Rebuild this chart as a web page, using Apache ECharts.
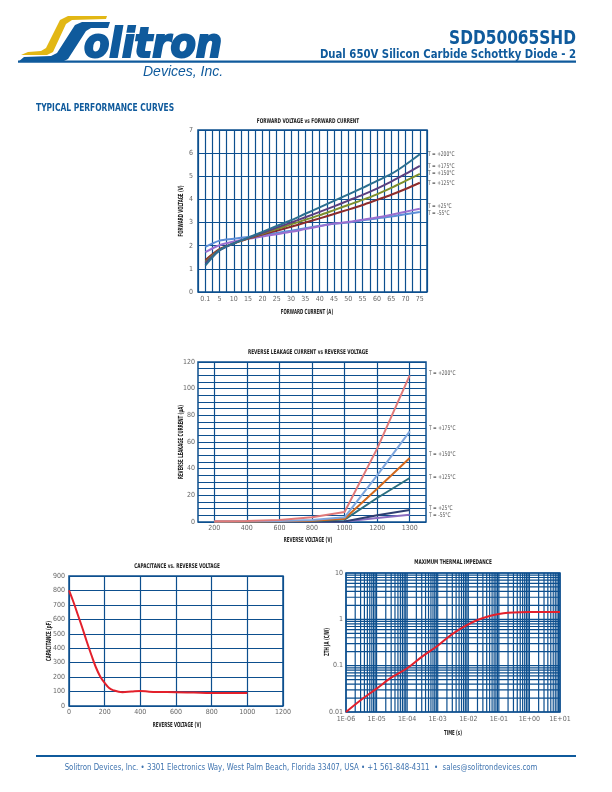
<!DOCTYPE html>
<html><head><meta charset="utf-8">
<script src="https://cdn.jsdelivr.net/npm/echarts@6/dist/echarts.min.js"></script>
<style>html,body{margin:0;padding:0;background:#fff}#c{width:612px;height:792px}</style>
</head><body><div id="c"></div>
<script>
// ---------- DATA ----------
const fwdCurrent = [0.1, 5, 10, 15, 20, 25, 30, 35, 40, 45, 50, 55, 60, 65, 70, 75];
const fwdV200 = [1.15, 1.8, 2.1, 2.35, 2.6, 2.85, 3.1, 3.38, 3.66, 3.94, 4.22, 4.5, 4.8, 5.1, 5.5, 5.95];
const fwdV175 = [1.25, 1.8, 2.1, 2.33, 2.55, 2.78, 3.0, 3.23, 3.46, 3.7, 3.95, 4.2, 4.47, 4.77, 5.1, 5.45];
const fwdV150 = [1.3, 1.82, 2.1, 2.32, 2.52, 2.72, 2.92, 3.12, 3.32, 3.54, 3.76, 3.98, 4.22, 4.5, 4.8, 5.1];
const fwdV125 = [1.38, 1.85, 2.1, 2.3, 2.48, 2.65, 2.82, 3.0, 3.18, 3.37, 3.56, 3.76, 3.98, 4.2, 4.45, 4.72];
const fwdV25 = [1.72, 2.02, 2.18, 2.3, 2.4, 2.5, 2.6, 2.72, 2.84, 2.96, 3.02, 3.12, 3.22, 3.34, 3.47, 3.6];
const fwdVm55 = [1.95, 2.22, 2.3, 2.38, 2.46, 2.55, 2.65, 2.76, 2.86, 2.95, 3.0, 3.1, 3.18, 3.26, 3.36, 3.46];
const fwdLabels = ['T = +200°C', 'T = +175°C', 'T = +150°C', 'T = +125°C', 'T = +25°C', 'T = -55°C'];

const revVoltage = ['200', '400', '600', '800', '1000', '1200', '1300'];
const revI200 = [0.5, 0.8, 1.5, 3.5, 7.5, 55, 110];
const revI175 = [0.3, 0.5, 0.8, 1.5, 3.5, 35, 68];
const revI150 = [0.2, 0.3, 0.5, 1.0, 2.5, 25, 48];
const revI125 = [0.1, 0.2, 0.3, 0.6, 1.8, 18, 33];
const revI25 = [0, 0, 0.1, 0.2, 0.4, 5, 9];
const revIm55 = [0, 0, 0, 0.1, 0.3, 3, 5.5];
const revLabels = ['T = +200°C', 'T = +175°C', 'T = +150°C', 'T = +125°C', 'T = +25°C', 'T = -55°C'];

const capVoltage = [0, 25, 50, 75, 100, 125, 150, 175, 200, 225, 250, 300, 350, 400, 450, 500, 600, 700, 800, 900, 1000];
const capValue = [800, 720, 630, 540, 445, 355, 270, 205, 160, 125, 108, 96, 100, 104, 99, 97, 96, 93, 90, 90, 90];

const thTime = [1e-6, 3e-6, 1e-5, 3e-5, 1e-4, 3e-4, 1e-3, 3e-3, 1e-2, 2e-2, 5e-2, 1e-1, 2e-1, 5e-1, 1, 3, 10];
const thZ = [0.01, 0.018, 0.032, 0.055, 0.088, 0.155, 0.27, 0.48, 0.78, 0.97, 1.18, 1.3, 1.38, 1.43, 1.44, 1.44, 1.44];
const thXTicks = ['1E-06', '1E-05', '1E-04', '1E-03', '1E-02', '1E-01', '1E+00', '1E+01'];
const thYTicks = ['0.01', '0.1', '1', '10'];

// ---------- STYLE ----------
const NF = "'Liberation Sans Narrow','DejaVu Sans Condensed','Roboto Condensed','Liberation Sans',sans-serif";
const GRIDC = '#0d4f8e';
const BLUE = '#0f5a9c';
const tickLbl = {color: '#666', fontSize: 7, fontFamily: NF};
const split = {show: true, lineStyle: {color: GRIDC, width: 1.2}};

const chart = echarts.init(document.getElementById('c'), null, {renderer: 'canvas'});

function zipXY(xs, ys) { return xs.map((x, i) => [x, ys[i]]); }
function lineSeries(xi, yi, xs, ys, color, extra) {
  return Object.assign({
    type: 'line', xAxisIndex: xi, yAxisIndex: yi,
    data: xs ? zipXY(xs, ys) : ys, showSymbol: false, symbol: 'none',
    lineStyle: {color: color, width: 2}, itemStyle: {color: color},
    smooth: 0.3, animation: false, z: 5
  }, extra || {});
}
function expLabel(v) { return thXTicks[Math.round(Math.log10(v)) + 6] || ''; }
function yLogLabel(v) { return thYTicks[Math.round(Math.log10(v)) + 2] || ''; }

// log grid lines (decade multiples)
const gridX = [], gridY = [];
for (let e = -6; e <= 1; e++) for (let m = 1; m <= 9; m++) { const v = m * Math.pow(10, e); if (v <= 10) gridX.push([v, 1]); }
for (let e = -2; e <= 1; e++) for (let m = 1; m <= 9; m++) { const v = m * Math.pow(10, e); if (v <= 10) gridY.push([1e-3, v]); }

function gridLineSeries(data, vertical) {
  return {
    type: 'custom', xAxisIndex: 3, yAxisIndex: 3, data: data, silent: true, z: 1, animation: false,
    encode: {x: 0, y: 1}, clip: false,
    renderItem: function (params, api) {
      const p1 = vertical ? api.coord([api.value(0), 0.01]) : api.coord([1e-6, api.value(1)]);
      const p2 = vertical ? api.coord([api.value(0), 10]) : api.coord([10, api.value(1)]);
      return {type: 'line', shape: {x1: p1[0], y1: p1[1], x2: p2[0], y2: p2[1]}, style: {stroke: GRIDC, lineWidth: 1.2}};
    }
  };
}

function txt(x, y, text, size, opts, sx, rot) {
  return {type: 'text', x: x, y: y, silent: true, z: 20, scaleX: sx || 1, rotation: rot || 0,
    style: Object.assign({text: text, fontSize: size, fontFamily: NF, fill: '#444', textAlign: 'left', textVerticalAlign: 'middle'}, opts || {})};
}
const bold = {fill: '#222', fontWeight: 'bold', textAlign: 'center'};

const fwdY = [154, 166, 173, 183, 206, 213];
const revY = [373, 428, 454, 477, 508, 515];

const option = {
  backgroundColor: '#fff',
  animation: false,
  grid: [
    {left: 198, top: 130, width: 229, height: 162, show: true, borderColor: GRIDC, borderWidth: 1.5, backgroundColor: 'transparent'},
    {left: 198, top: 362, width: 228, height: 160, show: true, borderColor: GRIDC, borderWidth: 1.5, backgroundColor: 'transparent'},
    {left: 69, top: 576, width: 214, height: 130, show: true, borderColor: GRIDC, borderWidth: 1.5, backgroundColor: 'transparent'},
    {left: 346, top: 573, width: 214, height: 139, show: true, borderColor: GRIDC, borderWidth: 1.5, backgroundColor: 'transparent'}
  ],
  xAxis: [
    {gridIndex: 0, type: 'value', min: -2.5, max: 77.5, interval: 2.5,
     axisLine: {show: false}, axisTick: {show: false}, splitLine: split,
     axisLabel: Object.assign({}, tickLbl, {margin: 4, formatter: v => (v === 0 ? '0.1' : (v > 0 && v % 5 === 0 ? String(v) : '')), showMinLabel: false, showMaxLabel: false})},
    {gridIndex: 1, type: 'category', data: revVoltage, boundaryGap: true,
     axisLine: {show: false}, axisTick: {show: false},
     splitLine: {show: true, alignWithLabel: true, lineStyle: {color: GRIDC, width: 1.2}},
     axisLabel: Object.assign({}, tickLbl, {margin: 3})},
    {gridIndex: 2, type: 'value', min: 0, max: 1200, interval: 200,
     axisLine: {show: false}, axisTick: {show: false}, splitLine: split,
     axisLabel: Object.assign({}, tickLbl, {margin: 3, formatter: v => String(v)})},
    {gridIndex: 3, type: 'log', logBase: 10, min: 1e-6, max: 10,
     axisLine: {show: false}, axisTick: {show: false}, splitLine: {show: false},
     axisLabel: Object.assign({}, tickLbl, {margin: 4, formatter: expLabel})}
  ],
  yAxis: [
    {gridIndex: 0, type: 'value', min: 0, max: 7, interval: 1,
     axisLine: {show: false}, axisTick: {show: false}, splitLine: split, axisLabel: Object.assign({}, tickLbl, {margin: 5})},
    {gridIndex: 1, type: 'value', min: 0, max: 120, interval: 5,
     axisLine: {show: false}, axisTick: {show: false}, splitLine: split,
     axisLabel: Object.assign({}, tickLbl, {margin: 3, formatter: v => (v % 20 === 0 ? String(v) : '')})},
    {gridIndex: 2, type: 'value', min: 0, max: 900, interval: 100,
     axisLine: {show: false}, axisTick: {show: false}, splitLine: split, axisLabel: Object.assign({}, tickLbl, {margin: 4})},
    {gridIndex: 3, type: 'log', logBase: 10, min: 0.01, max: 10,
     axisLine: {show: false}, axisTick: {show: false}, splitLine: {show: false},
     axisLabel: Object.assign({}, tickLbl, {margin: 3, formatter: yLogLabel})}
  ],
  series: [
    lineSeries(0, 0, fwdCurrent, fwdVm55, '#5d8ed8'),
    lineSeries(0, 0, fwdCurrent, fwdV25, '#9b6fcf'),
    lineSeries(0, 0, fwdCurrent, fwdV125, '#8c2b2b'),
    lineSeries(0, 0, fwdCurrent, fwdV150, '#7d8f2c'),
    lineSeries(0, 0, fwdCurrent, fwdV175, '#5b3f7e'),
    lineSeries(0, 0, fwdCurrent, fwdV200, '#2c6f8f'),
    lineSeries(1, 1, null, revIm55, '#8a6cc0', {smooth: false}),
    lineSeries(1, 1, null, revI25, '#2f3f72', {smooth: false}),
    lineSeries(1, 1, null, revI125, '#2b6f7f', {smooth: false}),
    lineSeries(1, 1, null, revI150, '#d2691e', {smooth: false}),
    lineSeries(1, 1, null, revI175, '#7ea6de', {smooth: false}),
    lineSeries(1, 1, null, revI200, '#e07a7a', {smooth: false}),
    lineSeries(2, 2, capVoltage, capValue, '#e3202b', {smooth: 0.4}),
    gridLineSeries(gridX, true),
    gridLineSeries(gridY, false),
    lineSeries(3, 3, thTime, thZ, '#e3202b', {smooth: 0.4})
  ],
  graphic: [
    // logo
    {type: 'polygon', silent: true, shape: {points: [[21,55],[47,55],[53,52],[66,24],[72,20],[106,19],[107,16],[68,16],[60,20],[46,48],[41,51],[28,52]]}, style: {fill: '#e2b714'}},
    {type: 'polygon', silent: true, shape: {points: [[18,62],[62,62],[68,59],[86,31],[91,28],[108,28],[110,22],[82,22],[75,25],[57,53],[51,56],[24,57]]}, style: {fill: BLUE}},
    {type: 'text', x: 84, y: 67, silent: true, scaleX: 1.0, style: {text: 'olitron', font: "italic bold 41px " + NF, fill: BLUE, stroke: BLUE, lineWidth: 2, textAlign: 'left', textVerticalAlign: 'bottom'}},
    txt(143, 72, 'Devices, Inc.', 14, {fill: BLUE, fontStyle: 'italic', fontFamily: "'Liberation Sans',Arial,sans-serif"}),
    // header
    {type: 'rect', silent: true, shape: {x: 18, y: 60.5, width: 558, height: 2.2}, style: {fill: BLUE}},
    txt(576, 39, 'SDD50065SHD', 19, {fill: BLUE, fontWeight: 'bold', textAlign: 'right'}, 0.9),
    txt(576, 55, 'Dual 650V Silicon Carbide Schottky Diode - 2', 12.5, {fill: BLUE, fontWeight: 'bold', textAlign: 'right'}, 0.9),
    txt(36, 108, 'TYPICAL PERFORMANCE CURVES', 11, {fill: BLUE, fontWeight: 'bold'}, 0.76),
    // chart titles
    txt(308, 121, 'FORWARD VOLTAGE vs FORWARD CURRENT', 6.5, bold, 0.72),
    txt(308, 352, 'REVERSE LEAKAGE CURRENT vs REVERSE VOLTAGE', 6.5, bold, 0.72),
    txt(177, 566, 'CAPACITANCE vs. REVERSE VOLTAGE', 6.5, bold, 0.72),
    txt(453, 562, 'MAXIMUM THERMAL IMPEDANCE', 6.5, bold, 0.72),
    // axis names
    txt(307, 312, 'FORWARD CURRENT (A)', 7, bold, 0.62),
    txt(181, 211, 'FORWARD VOLTAGE (V)', 7, bold, 0.62, Math.PI / 2),
    txt(308, 540, 'REVERSE VOLTAGE (V)', 7, bold, 0.62),
    txt(181, 442, 'REVERSE LEAKAGE CURRENT (µA)', 7, bold, 0.62, Math.PI / 2),
    txt(177, 725, 'REVERSE VOLTAGE (V)', 7, bold, 0.62),
    txt(49, 641, 'CAPACITANCE (pF)', 7, bold, 0.62, Math.PI / 2),
    txt(453, 733, 'TIME (s)', 7, bold, 0.62),
    txt(327, 642, 'ZTH JA (C/W)', 7, bold, 0.62, Math.PI / 2),
    // footer
    {type: 'rect', silent: true, shape: {x: 36, y: 755, width: 540, height: 2}, style: {fill: BLUE}},
    txt(301, 768, 'Solitron Devices, Inc. • 3301 Electronics Way, West Palm Beach, Florida 33407, USA • +1 561-848-4311  •  sales@solitrondevices.com', 9.5, {fill: '#3f74b0', textAlign: 'center'}, 0.82)
  ].concat(fwdLabels.map((t, i) => txt(428, fwdY[i], t, 6.5, {fill: '#555'}, 0.75)))
   .concat(revLabels.map((t, i) => txt(429, revY[i], t, 6.5, {fill: '#555'}, 0.75)))
};
chart.setOption(option);
</script></body></html>
